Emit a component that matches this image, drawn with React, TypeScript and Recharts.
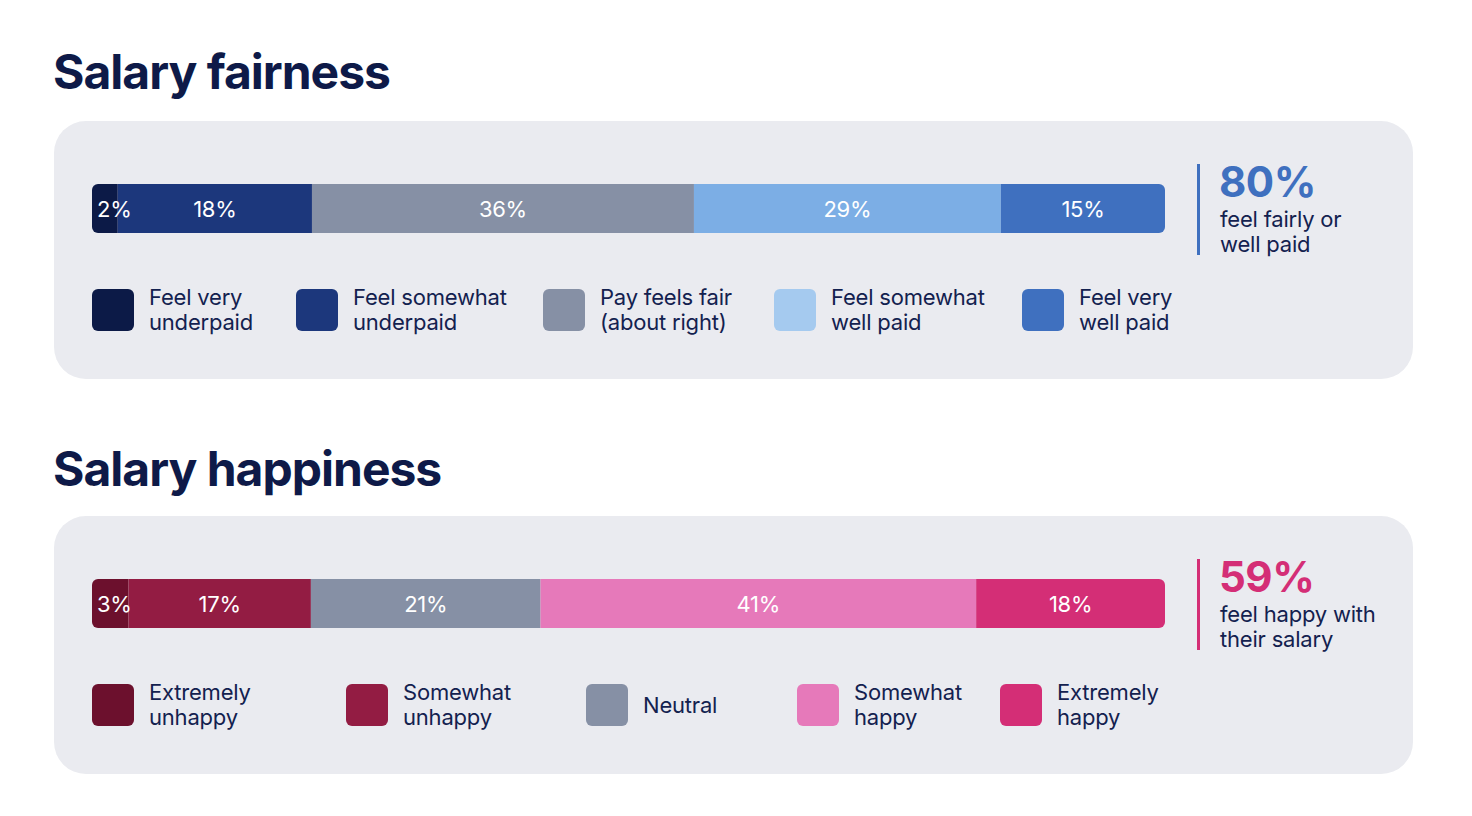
import React from 'react';
import { BarChart, Bar, XAxis, YAxis } from 'recharts';

// ---------- data ----------
const fairnessKeys = ['veryUnder', 'someUnder', 'fair', 'someWell', 'veryWell'];
const fairnessLabels = [
  ['Feel very', 'underpaid'],
  ['Feel somewhat', 'underpaid'],
  ['Pay feels fair', '(about right)'],
  ['Feel somewhat', 'well paid'],
  ['Feel very', 'well paid'],
];
// segment shares (labels show them rounded)
const fairnessValues = [2.4, 18.1, 35.6, 28.6, 15.3];
const fairnessStat = 80;
const fairnessStatText = ['feel fairly or', 'well paid'];

const happinessKeys = ['extUnhappy', 'someUnhappy', 'neutral', 'someHappy', 'extHappy'];
const happinessLabels = [
  ['Extremely', 'unhappy'],
  ['Somewhat', 'unhappy'],
  ['Neutral'],
  ['Somewhat', 'happy'],
  ['Extremely', 'happy'],
];
const happinessValues = [3.4, 17.0, 21.4, 40.6, 17.6];
const happinessStat = 59;
const happinessStatText = ['feel happy with', 'their salary'];

// ---------- styles ----------
const fairnessBarColors = ['#0C1A47', '#1C377C', '#8690A5', '#7CAEE5', '#3F70BF'];
const fairnessLegendColors = ['#0C1A47', '#1C377C', '#8690A5', '#A5CAEF', '#3F70BF'];
const fairnessAccent = '#3F70BF';
const fairnessLegendX = [92, 296, 543, 774, 1022];

const happinessBarColors = ['#6C102D', '#931C43', '#8690A5', '#E679BA', '#D42E76'];
const happinessLegendColors = ['#6C102D', '#931C43', '#8690A5', '#E679BA', '#D42E76'];
const happinessAccent = '#D42E76';
const happinessLegendX = [92, 346, 586, 797, 1000];

const NAVY = '#0E1A48';
const TEXT = '#13214F';
const PANEL = '#EAEBF0';
const FONT = 'Inter, "Noto Sans", sans-serif';

const BAR_W = 1073;
const BAR_H = 49;

const makeLabel = (val: number) => (props: any) => {
  const { x, y, width, height } = props;
  const small = width < 40;
  return (
    <text
      x={small ? x + 5 : x + width / 2}
      y={y + height / 2}
      textAnchor={small ? 'start' : 'middle'}
      dominantBaseline="central"
      fill="#FFFFFF"
      fontSize={22}
      fontFamily={FONT}
      letterSpacing={-0.3}
    >
      {Math.round(val)}%
    </text>
  );
};

function StackBar({ keys, values, colors }: { keys: string[]; values: number[]; colors: string[] }) {
  const row: any = { name: 'row' };
  keys.forEach((k, i) => (row[k] = values[i]));
  const data = [row];
  return (
    <BarChart
      width={BAR_W}
      height={BAR_H}
      data={data}
      layout="vertical"
      margin={{ top: 0, right: 0, bottom: 0, left: 0 }}
      barCategoryGap={0}
      barGap={0}
    >
      <XAxis type="number" domain={[0, 100]} hide />
      <YAxis type="category" dataKey="name" hide />
      {keys.map((k, i) => (
        <Bar
          key={k}
          dataKey={k}
          stackId="s"
          fill={colors[i]}
          isAnimationActive={false}
          label={makeLabel(values[i])}
          radius={i === 0 ? [6, 0, 0, 6] : i === keys.length - 1 ? [0, 6, 6, 0] : 0}
        />
      ))}
    </BarChart>
  );
}

function Legend({ labels, colors, xs, top }: { labels: string[][]; colors: string[]; xs: number[]; top: number }) {
  return (
    <>
      {labels.map((lines, i) => (
        <div
          key={i}
          style={{
            position: 'absolute',
            left: xs[i],
            top: top - 4,
            height: 50,
            display: 'flex',
            alignItems: 'center',
          }}
        >
          <div
            style={{
              width: 42,
              height: 42,
              borderRadius: 6,
              background: colors[i],
              flex: '0 0 auto',
            }}
          />
          <div
            style={{
              marginLeft: 15,
              fontFamily: FONT,
              fontSize: 22,
              lineHeight: '25px',
              color: TEXT,
              whiteSpace: 'nowrap',
              letterSpacing: -0.2,
            }}
          >
            {lines.map((l, j) => (
              <div key={j}>{l}</div>
            ))}
          </div>
        </div>
      ))}
    </>
  );
}

function Stat({ value, lines, color, top }: { value: number; lines: string[]; color: string; top: number }) {
  return (
    <>
      <div style={{ position: 'absolute', left: 1197, top, width: 3, height: 91, background: color }} />
      <div
        style={{
          position: 'absolute',
          left: 1219,
          top: top - 3,
          fontFamily: FONT,
          fontWeight: 700,
          fontSize: 42,
          lineHeight: '42px',
          color,
          letterSpacing: -0.5,
        }}
      >
        {value}%
      </div>
      <div
        style={{
          position: 'absolute',
          left: 1220,
          top: top + 43,
          fontFamily: FONT,
          fontSize: 22,
          lineHeight: '24.5px',
          color: TEXT,
          whiteSpace: 'nowrap',
          letterSpacing: -0.2,
        }}
      >
        {lines.map((l, j) => (
          <div key={j}>{l}</div>
        ))}
      </div>
    </>
  );
}

function Section({
  title,
  titleTop,
  panelTop,
  keys,
  labels,
  values,
  barColors,
  legendColors,
  legendX,
  accent,
  statValue,
  statLines,
}: any) {
  return (
    <>
      <div
        style={{
          position: 'absolute',
          left: 53,
          top: titleTop,
          fontFamily: FONT,
          fontWeight: 700,
          fontSize: 48,
          lineHeight: '48px',
          color: NAVY,
          whiteSpace: 'nowrap',
          letterSpacing: -1,
        }}
      >
        {title}
      </div>
      <div
        style={{
          position: 'absolute',
          left: 54,
          top: panelTop,
          width: 1359,
          height: 258,
          borderRadius: 32,
          background: PANEL,
        }}
      />
      <div style={{ position: 'absolute', left: 92, top: panelTop + 63 }}>
        <StackBar keys={keys} values={values} colors={barColors} />
      </div>
      <Legend labels={labels} colors={legendColors} xs={legendX} top={panelTop + 168} />
      <Stat value={statValue} lines={statLines} color={accent} top={panelTop + 43} />
    </>
  );
}

export default function App() {
  return (
    <div style={{ position: 'absolute', left: 0, top: 0, width: 1472, height: 816, background: '#FFFFFF', overflow: 'hidden' }}>
      <Section
        title="Salary fairness"
        titleTop={48}
        panelTop={121}
        keys={fairnessKeys}
        labels={fairnessLabels}
        values={fairnessValues}
        barColors={fairnessBarColors}
        legendColors={fairnessLegendColors}
        legendX={fairnessLegendX}
        accent={fairnessAccent}
        statValue={fairnessStat}
        statLines={fairnessStatText}
      />
      <Section
        title="Salary happiness"
        titleTop={445}
        panelTop={516}
        keys={happinessKeys}
        labels={happinessLabels}
        values={happinessValues}
        barColors={happinessBarColors}
        legendColors={happinessLegendColors}
        legendX={happinessLegendX}
        accent={happinessAccent}
        statValue={happinessStat}
        statLines={happinessStatText}
      />
    </div>
  );
}
